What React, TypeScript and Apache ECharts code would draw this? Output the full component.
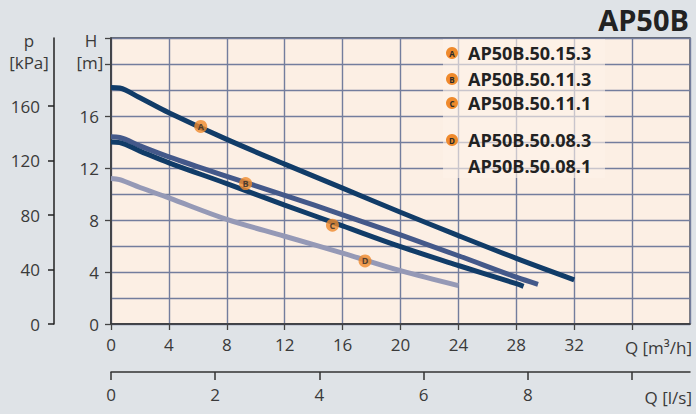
import React, { useEffect, useRef } from "react";
import * as echarts from "echarts";

// Flow Q [m³/h] vs head H [m]
const curveA: [number, number][] = [[0, 18.2], [0.6, 18.15], [2, 17.4], [4, 16.25], [8, 14.2], [12, 12.3], [16, 10.45], [20, 8.6], [24, 6.8], [28, 5.05], [32, 3.4]];
const curveB: [number, number][] = [[0, 14.4], [0.6, 14.35], [2, 13.7], [4, 12.85], [8, 11.35], [12, 9.9], [16, 8.4], [20, 6.85], [24, 5.25], [28, 3.6], [29.5, 3.05]];
const curveC: [number, number][] = [[0, 14.0], [0.6, 13.95], [2, 13.3], [4, 12.4], [8, 10.8], [12, 9.15], [16, 7.55], [20, 5.95], [24, 4.5], [28, 3.1], [28.5, 2.9]];
const curveD: [number, number][] = [[0, 11.2], [0.6, 11.1], [2, 10.5], [4, 9.7], [8, 8.05], [12, 6.75], [16, 5.45], [20, 4.1], [24, 2.95]];

const markerLetters = ["A", "B", "C", "D"];
const markerPoints: [number, number][] = [[6.2, 15.2], [9.3, 10.8], [15.3, 7.6], [17.55, 4.85]];

const legendNames = ["AP50B.50.15.3", "AP50B.50.11.3", "AP50B.50.11.1", "AP50B.50.08.3", "AP50B.50.08.1"];
const legendLetters = ["A", "B", "C", "D", ""];

const qTicks = [0, 4, 8, 12, 16, 20, 24, 28, 32, 36];
const qLabels = [0, 4, 8, 12, 16, 20, 24, 28, 32];
const hTicks = [0, 4, 8, 12, 16, 20, 22];
const hLabels = [0, 4, 8, 12, 16];
const pTicks = [0, 40, 80, 120, 160];
const lsTicks = [0, 2, 4, 6, 8, 10];
const lsLabels = [0, 2, 4, 6, 8];

const Q_MAX = 40;
const H_MAX = 22;
const P_MAX = 210;

const FONT = "'Open Sans', 'Noto Sans', sans-serif";
const TXT = "#3a3a3a";
const GRIDC = "#737d9d";
const ORANGE = "#ef8a2c";

export default function App() {
  const ref = useRef<HTMLDivElement>(null);
  useEffect(() => {
    if (!ref.current) return;
    const chart = echarts.init(ref.current, undefined, { renderer: "svg" });
    const curves = [
      { data: curveA, color: "#113c68" },
      { data: curveB, color: "#44598a" },
      { data: curveC, color: "#113c68" },
      { data: curveD, color: "#9599b6" },
    ];
    const legendY = [53, 79, 103, 140, 166];
    const graphic: any[] = [
      { type: "rect", shape: { x: 443, y: 39, width: 162, height: 139 }, style: { fill: "rgba(253,242,232,0.62)" }, z: 1 },
      { type: "text", x: 689, y: 19, z: 5, style: { text: "AP50B", font: `bold 29px ${FONT}`, fill: "#222", align: "right", verticalAlign: "middle" } },
      { type: "text", x: 29, y: 40, z: 5, style: { text: "p", font: `17px ${FONT}`, fill: TXT, align: "center", verticalAlign: "middle" } },
      { type: "text", x: 29, y: 62, z: 5, style: { text: "[kPa]", font: `17px ${FONT}`, fill: TXT, align: "center", verticalAlign: "middle" } },
      { type: "text", x: 91, y: 40, z: 5, style: { text: "H", font: `17px ${FONT}`, fill: TXT, align: "center", verticalAlign: "middle" } },
      { type: "text", x: 90, y: 62, z: 5, style: { text: "[m]", font: `17px ${FONT}`, fill: TXT, align: "center", verticalAlign: "middle" } },
      { type: "text", x: 692, y: 347, z: 5, style: { text: "Q [m³/h]", font: `17px ${FONT}`, fill: TXT, align: "right", verticalAlign: "middle" } },
      { type: "text", x: 692, y: 397, z: 5, style: { text: "Q [l/s]", font: `17px ${FONT}`, fill: TXT, align: "right", verticalAlign: "middle" } },
    ];
    legendNames.forEach((name, i) => {
      graphic.push({ type: "text", x: 468, y: legendY[i], z: 5, style: { text: name, font: `bold 18px ${FONT}`, fill: "#222", align: "left", verticalAlign: "middle" } });
      if (legendLetters[i]) {
        graphic.push({ type: "circle", z: 5, shape: { cx: 452, cy: legendY[i], r: 6 }, style: { fill: ORANGE } });
        graphic.push({ type: "text", x: 452, y: legendY[i] + 0.5, z: 6, style: { text: legendLetters[i], font: `bold 8px ${FONT}`, fill: "#2a2a2a", align: "center", verticalAlign: "middle" } });
      }
    });

    const option: any = {
      animation: false,
      backgroundColor: "#dfe3e7",
      textStyle: { fontFamily: FONT },
      grid: { left: 111, top: 38, right: 6, bottom: 90, show: true, backgroundColor: "#fcefe4", borderColor: "#3d4048", borderWidth: 1.3 },
      xAxis: [
        { type: "value", min: 0, max: Q_MAX, interval: 4, position: "bottom",
          axisLine: { show: true, onZero: false, lineStyle: { color: "#333", width: 1.5 } },
          axisTick: { show: false }, axisLabel: { show: false },
          splitLine: { show: true, lineStyle: { color: GRIDC, width: 1.4 } } },
        { type: "value", min: 0, max: Q_MAX, position: "bottom", offset: 0,
          axisLine: { show: false, onZero: false },
          axisTick: { show: true, length: 6, customValues: qTicks, lineStyle: { color: "#444", width: 1.3 } },
          axisLabel: { show: true, customValues: qLabels, margin: 12, fontSize: 17, color: TXT, fontFamily: FONT },
          splitLine: { show: false } },
        { type: "value", min: 0, max: Q_MAX / 3.6, position: "bottom", offset: 48,
          axisLine: { show: true, onZero: false, lineStyle: { color: "#333", width: 1.5 } },
          axisTick: { show: true, length: 8, customValues: lsTicks, lineStyle: { color: "#333", width: 1.5 } },
          axisLabel: { show: true, customValues: lsLabels, margin: 14, fontSize: 17, color: TXT, fontFamily: FONT },
          splitLine: { show: false } },
      ],
      yAxis: [
        { type: "value", min: 0, max: H_MAX, interval: 2, position: "left",
          axisLine: { show: true, onZero: false, lineStyle: { color: "#333", width: 1.5 } },
          axisTick: { show: false }, axisLabel: { show: false },
          splitLine: { show: true, lineStyle: { color: GRIDC, width: 1.4 } } },
        { type: "value", min: 0, max: H_MAX, position: "left", offset: 0,
          axisLine: { show: false, onZero: false },
          axisTick: { show: true, length: 6, customValues: hTicks, lineStyle: { color: "#444", width: 1.3 } },
          axisLabel: { show: true, customValues: hLabels, margin: 12, fontSize: 17, color: TXT, fontFamily: FONT },
          splitLine: { show: false } },
        { type: "value", min: 0, max: P_MAX, position: "left", offset: 57,
          axisLine: { show: true, onZero: false, lineStyle: { color: "#222", width: 1.5 } },
          axisTick: { show: true, length: 6, customValues: pTicks, lineStyle: { color: "#222", width: 1.5 } },
          axisLabel: { show: true, customValues: pTicks, margin: 14, fontSize: 17, color: TXT, fontFamily: FONT },
          splitLine: { show: false } },
      ],
      graphic,
      series: [
        ...curves.map((c, i) => ({
          type: "line", xAxisIndex: 0, yAxisIndex: 0, data: c.data, smooth: 0.35, showSymbol: false, symbol: "none",
          lineStyle: { color: c.color, width: 5, cap: "butt" }, z: 3 + (i === 3 ? 0 : 1),
        })),
        {
          type: "scatter", xAxisIndex: 0, yAxisIndex: 0, symbol: "circle", symbolSize: 13, z: 10,
          itemStyle: { color: ORANGE },
          data: markerPoints.map((p, i) => ({ value: p, name: markerLetters[i] })),
          label: { show: true, position: "inside", formatter: (p: any) => p.name, fontSize: 9, fontWeight: "bold", color: "#2a2a2a", fontFamily: FONT },
        },
      ],
    };
    chart.setOption(option);
    return () => chart.dispose();
  }, []);
  return <div ref={ref} style={{ position: "absolute", left: 0, top: 0, width: 696, height: 414 }} />;
}
